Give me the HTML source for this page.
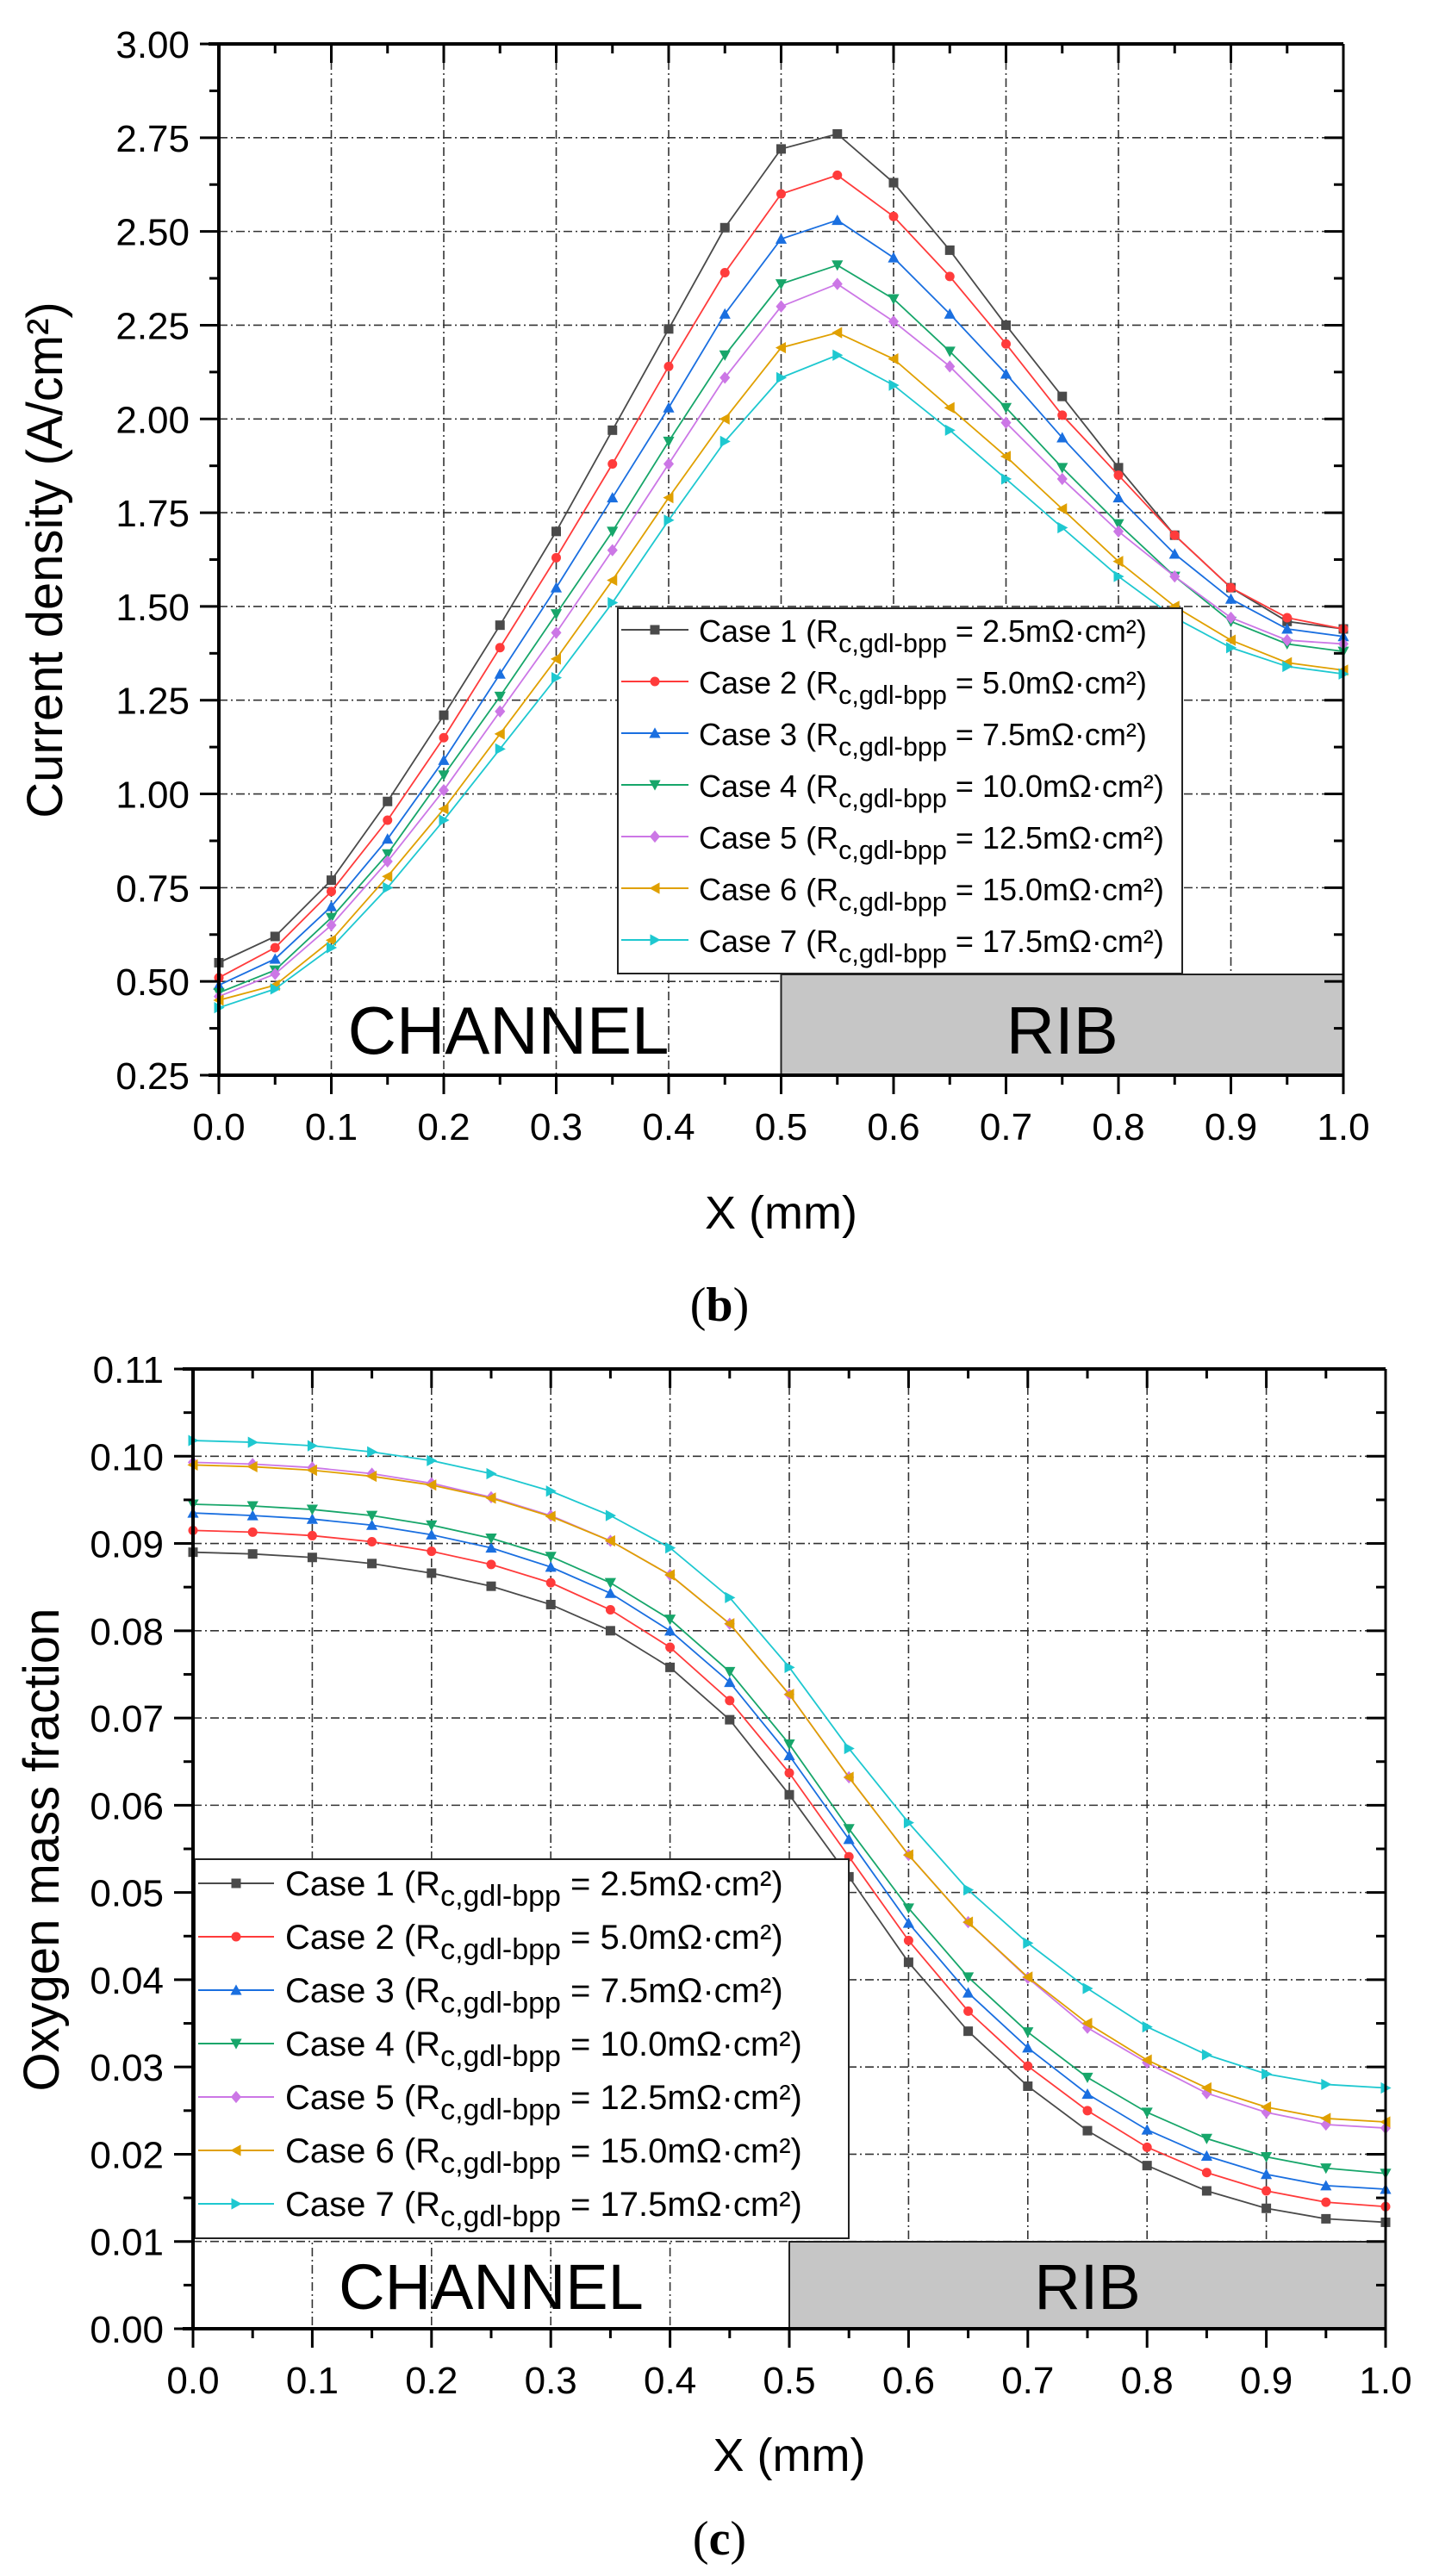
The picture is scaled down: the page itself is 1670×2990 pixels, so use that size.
<!DOCTYPE html>
<html><head><meta charset="utf-8"><style>
html,body{margin:0;padding:0;background:#fff}
svg{display:block;font-family:"Liberation Sans",Arial,sans-serif}
</style></head><body>
<svg id="fig" width="1670" height="2990" viewBox="0 0 1670 2990" xmlns="http://www.w3.org/2000/svg"></svg>
<script>
const xValues = [0,0.05,0.1,0.15,0.2,0.25,0.3,0.35,0.4,0.45,0.5,0.55,0.6,0.65,0.7,0.75,0.8,0.85,0.9,0.95,1.0];
const caseLabels = ["Case 1","Case 2","Case 3","Case 4","Case 5","Case 6","Case 7"];
const caseResist = ["= 2.5mΩ·cm²)","= 5.0mΩ·cm²)","= 7.5mΩ·cm²)","= 10.0mΩ·cm²)","= 12.5mΩ·cm²)","= 15.0mΩ·cm²)","= 17.5mΩ·cm²)"];
const currentCase1 = [0.55,0.62,0.77,0.98,1.21,1.45,1.70,1.97,2.24,2.51,2.72,2.76,2.63,2.45,2.25,2.06,1.87,1.69,1.55,1.46,1.44];
const currentCase2 = [0.51,0.59,0.74,0.93,1.15,1.39,1.63,1.88,2.14,2.39,2.60,2.65,2.54,2.38,2.20,2.01,1.85,1.69,1.55,1.47,1.44];
const currentCase3 = [0.49,0.56,0.70,0.88,1.09,1.32,1.55,1.79,2.03,2.28,2.48,2.53,2.43,2.28,2.12,1.95,1.79,1.64,1.52,1.44,1.42];
const currentCase4 = [0.47,0.53,0.67,0.84,1.05,1.26,1.48,1.70,1.94,2.17,2.36,2.41,2.32,2.18,2.03,1.87,1.72,1.58,1.46,1.40,1.38];
const currentCase5 = [0.46,0.52,0.65,0.82,1.01,1.22,1.43,1.65,1.88,2.11,2.30,2.36,2.26,2.14,1.99,1.84,1.70,1.58,1.47,1.41,1.40];
const currentCase6 = [0.45,0.49,0.61,0.78,0.96,1.16,1.36,1.57,1.79,2.00,2.19,2.23,2.16,2.03,1.90,1.76,1.62,1.50,1.41,1.35,1.33];
const currentCase7 = [0.43,0.48,0.59,0.75,0.93,1.12,1.31,1.51,1.73,1.94,2.11,2.17,2.09,1.97,1.84,1.71,1.58,1.47,1.39,1.34,1.32];
const oxyCase1 = [0.0890,0.0888,0.0884,0.0877,0.0866,0.0851,0.0830,0.0800,0.0758,0.0698,0.0612,0.0518,0.0420,0.0341,0.0278,0.0227,0.0187,0.0158,0.0138,0.0126,0.0122];
const oxyCase2 = [0.0915,0.0913,0.0909,0.0902,0.0891,0.0876,0.0855,0.0824,0.0781,0.0720,0.0637,0.0541,0.0445,0.0364,0.0301,0.0250,0.0208,0.0179,0.0158,0.0145,0.0140];
const oxyCase3 = [0.0935,0.0932,0.0928,0.0921,0.0910,0.0895,0.0873,0.0843,0.0800,0.0741,0.0657,0.0561,0.0465,0.0385,0.0322,0.0269,0.0228,0.0198,0.0177,0.0164,0.0160];
const oxyCase4 = [0.0945,0.0943,0.0939,0.0932,0.0921,0.0906,0.0885,0.0855,0.0813,0.0753,0.0670,0.0573,0.0482,0.0403,0.0340,0.0288,0.0248,0.0218,0.0197,0.0184,0.0178];
const oxyCase5 = [0.0993,0.0991,0.0987,0.0980,0.0969,0.0953,0.0932,0.0903,0.0864,0.0808,0.0727,0.0632,0.0543,0.0466,0.0402,0.0345,0.0305,0.0270,0.0248,0.0234,0.0230];
const oxyCase6 = [0.0990,0.0988,0.0984,0.0977,0.0967,0.0952,0.0931,0.0903,0.0864,0.0808,0.0727,0.0632,0.0543,0.0466,0.0403,0.0350,0.0308,0.0276,0.0254,0.0241,0.0237];
const oxyCase7 = [0.1018,0.1016,0.1012,0.1005,0.0995,0.0980,0.0960,0.0932,0.0895,0.0838,0.0758,0.0665,0.0580,0.0503,0.0442,0.0390,0.0346,0.0314,0.0292,0.0280,0.0276];
const xTickLabels = ["0.0","0.1","0.2","0.3","0.4","0.5","0.6","0.7","0.8","0.9","1.0"];
const yTicksTop = ["0.25","0.50","0.75","1.00","1.25","1.50","1.75","2.00","2.25","2.50","2.75","3.00"];
const yTicksBottom = ["0.00","0.01","0.02","0.03","0.04","0.05","0.06","0.07","0.08","0.09","0.10","0.11"];

const colors = ["#4a4a4a","#ff3b3b","#1a6fe0","#17a66a","#cc77e6","#e0a000","#1ec8d0"];
const markers = ["square","circle","up","down","diamond","left","right"];
const NS = "http://www.w3.org/2000/svg";
const svg = document.getElementById("fig");
function el(tag, attrs, parent, text){
  const e = document.createElementNS(NS, tag);
  for (const k in attrs) e.setAttribute(k, attrs[k]);
  if (text !== undefined) e.textContent = text;
  (parent||svg).appendChild(e);
  return e;
}
function marker(type, x, y, c, s, g){
  let m;
  if (type==="square") m = el("rect",{x:x-s,y:y-s,width:2*s,height:2*s,fill:c},g);
  else if (type==="circle") m = el("circle",{cx:x,cy:y,r:s,fill:c},g);
  else {
    let p;
    if (type==="up") p=[[x,y-s*1.2],[x+s*1.2,y+s],[x-s*1.2,y+s]];
    else if (type==="down") p=[[x,y+s*1.2],[x+s*1.2,y-s],[x-s*1.2,y-s]];
    else if (type==="left") p=[[x-s*1.2,y],[x+s,y-s*1.2],[x+s,y+s*1.2]];
    else if (type==="right") p=[[x+s*1.2,y],[x-s,y-s*1.2],[x-s,y+s*1.2]];
    else p=[[x,y-s*1.3],[x+s*1.1,y],[x,y+s*1.3],[x-s*1.1,y]];
    m = el("polygon",{points:p.map(q=>q.join(",")).join(" "),fill:c},g);
  }
  return m;
}

function drawChart(cfg){
  const g = el("g",{});
  
  
  const {L,R,T,B,ymin,ymax} = cfg;
  const sx = v => L + (v-0)/(1-0)*(R-L);
  const sy = v => B - (v-ymin)/(ymax-ymin)*(B-T);
  for (let i=1;i<xTickLabels.length-1;i++){
    const x = sx(parseFloat(xTickLabels[i]));
    const gl = el("line",{x1:x,y1:T,x2:x,y2:B,stroke:"#333","stroke-width":1.6,"stroke-dasharray":"10,4,2,4"},g);
    
    
  }
  for (let i=1;i<cfg.yTicks.length-1;i++){
    const y = sy(parseFloat(cfg.yTicks[i]));
    const gl = el("line",{x1:L,y1:y,x2:R,y2:y,stroke:"#333","stroke-width":1.6,"stroke-dasharray":"10,4,2,4"},g);
    
    
  }
  const rib = el("rect",{x:sx(0.5),y:cfg.ribTop,width:R-sx(0.5),height:B-cfg.ribTop,fill:"#c6c6c6",stroke:"#222","stroke-width":2},g);
  
  
  const chW = el("rect",{x:L,y:cfg.ribTop,width:sx(0.5)-L,height:B-cfg.ribTop,fill:"none"},g);
  
  
  const ct = el("text",{x:cfg.chX,y:cfg.chY,"font-size":cfg.regFont,"text-anchor":"middle"},g,"CHANNEL");
  
  
  const rt = el("text",{x:(sx(0.5)+R)/2,y:cfg.chY,"font-size":cfg.regFont,"text-anchor":"middle"},g,"RIB");
  
  
  cfg.series.forEach((vals,si)=>{
    const sg = el("g",{},g);
    
    
    const pts = vals.map((v,i)=>sx(xValues[i])+","+sy(v)).join(" ");
    el("polyline",{points:pts,fill:"none",stroke:colors[si],"stroke-width":1.8},sg);
    vals.forEach((v,i)=>{
      const m = marker(markers[si], sx(xValues[i]), sy(v), colors[si], 5.5, sg);
      
      
    });
  });
  const lg = el("g",{},g);
  
  
  const lb = cfg.legend;
  el("rect",{x:lb.x,y:lb.y,width:lb.w,height:lb.h,fill:"#fff",stroke:"#222","stroke-width":2},lg);
  for (let i=0;i<7;i++){
    const ey = lb.y0 + i*lb.dy;
    const eg = el("g",{},lg);
    
    
    el("line",{x1:lb.x+4,y1:ey,x2:lb.lineEnd,y2:ey,stroke:colors[i],"stroke-width":2},eg);
    marker(markers[i],(lb.x+4+lb.lineEnd)/2,ey,colors[i],5.5,eg);
    const t = el("text",{x:lb.textX,y:ey+14,"font-size":lb.fs},eg);
    el("tspan",{},t,caseLabels[i]+" (R");
    el("tspan",{dy:12,"font-size":lb.fs*0.85},t,"c,gdl-bpp");
    el("tspan",{dy:-12},t," "+caseResist[i]);
  }
  el("line",{x1:L-12,y1:T,x2:R,y2:T,stroke:"#000","stroke-width":4},g);
  el("line",{x1:L,y1:T,x2:L,y2:B,stroke:"#000","stroke-width":4},g);
  el("line",{x1:R,y1:T,x2:R,y2:B+2,stroke:"#000","stroke-width":3},g);
  el("line",{x1:L-12,y1:B,x2:R,y2:B,stroke:"#000","stroke-width":4},g);
  for (let i=0;i<=20;i++){
    const x = sx(i*0.05), major = i%2===0;
    el("line",{x1:x,y1:B,x2:x,y2:B+(major?22:11),stroke:"#000","stroke-width":3},g);
    el("line",{x1:x,y1:T,x2:x,y2:T+(major?22:11),stroke:"#000","stroke-width":3},g);
  }
  xTickLabels.forEach((lab,i)=>{
    const t = el("text",{x:sx(parseFloat(lab)),y:B+75,"font-size":44,"text-anchor":"middle"},g,lab);
    
    
  });
  const ny = cfg.yTicks.length-1;
  for (let i=0;i<=ny*2;i++){
    const v = ymin + (ymax-ymin)*i/(ny*2), y = sy(v), major = i%2===0;
    el("line",{x1:L-(major?22:11),y1:y,x2:L,y2:y,stroke:"#000","stroke-width":3},g);
    el("line",{x1:R-(major?22:11),y1:y,x2:R,y2:y,stroke:"#000","stroke-width":3},g);
  }
  cfg.yTicks.forEach(lab=>{
    const t = el("text",{x:L-34,y:sy(parseFloat(lab))+16,"font-size":44,"text-anchor":"end"},g,lab);
    
    
  });
  const xt = el("text",{x:(L+R)/2,y:cfg.xTitleY,"font-size":54,"text-anchor":"middle"},g,"X (mm)");
  
  
  const yt = el("text",{x:0,y:0,"font-size":58,"text-anchor":"middle",transform:`translate(${cfg.yTitleX},${cfg.yTitleY}) rotate(-90)`},g,cfg.yTitle);
  
  
  const pl = el("text",{x:835,y:cfg.panelY,"font-size":56,"text-anchor":"middle","font-family":"Liberation Serif, serif"},g);
  el("tspan",{},pl,"(");
  el("tspan",{"font-weight":"bold"},pl,cfg.panel);
  el("tspan",{},pl,")");
  
  
}

drawChart({name:"current-density-chart",L:254,R:1559,T:51,B:1248,ymin:0.25,ymax:3.0,yTicks:yTicksTop,
  series:[currentCase1,currentCase2,currentCase3,currentCase4,currentCase5,currentCase6,currentCase7],
  ribTop:1131,chX:590,chY:1223,regFont:78,
  legend:{x:717,y:706,w:655,h:424,y0:731,dy:60,lineEnd:799,textX:811,fs:36},
  xTitleY:1426,yTitle:"Current density (A/cm²)",yTitleX:72,yTitleY:650,panelY:1533,panel:"b"});
drawChart({name:"oxygen-mass-fraction-chart",L:224,R:1608,T:1589,B:2703,ymin:0,ymax:0.11,yTicks:yTicksBottom,
  series:[oxyCase1,oxyCase2,oxyCase3,oxyCase4,oxyCase5,oxyCase6,oxyCase7],
  ribTop:2602,chX:570,chY:2680,regFont:74,
  legend:{x:226,y:2158,w:759,h:440,y0:2186,dy:62,lineEnd:318,textX:331,fs:40},
  xTitleY:2868,yTitle:"Oxygen mass fraction",yTitleX:68,yTitleY:2147,panelY:2965,panel:"c"});
</script>
</body></html>
